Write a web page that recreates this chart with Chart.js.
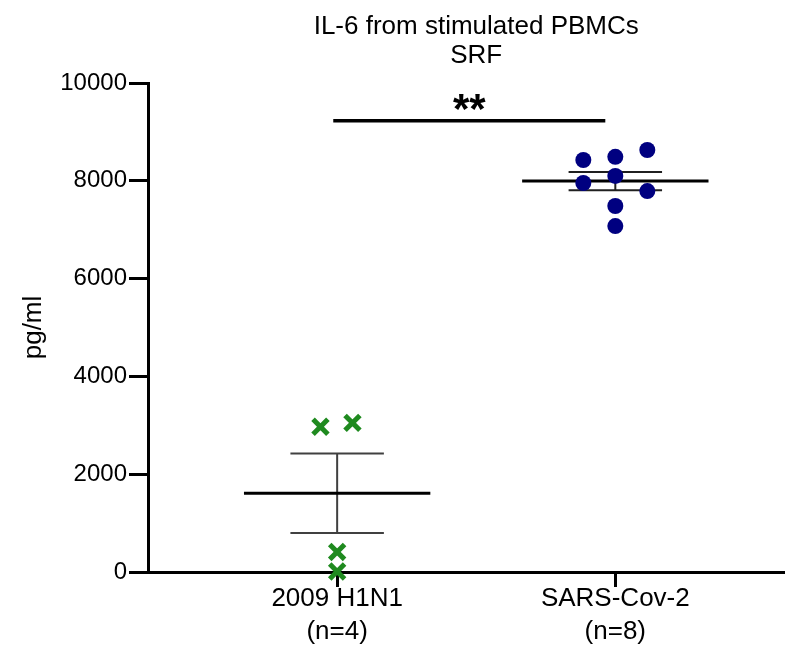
<!DOCTYPE html>
<html>
<head>
<meta charset="utf-8">
<script src="https://cdn.jsdelivr.net/npm/chart.js@4.4.0/dist/chart.umd.min.js"></script>
<style>
  html, body { margin: 0; padding: 0; background: #fff; }
  #wrap { width: 785px; height: 652px; }
</style>
</head>
<body>
<div id="wrap"><canvas id="myChart"></canvas></div>
<script>
var groups = ['2009 H1N1', 'SARS-Cov-2'];
var groupN = ['(n=4)', '(n=8)'];
var h1n1Values = [2970, 3050, 410, 10];
var sarsValues = [8425, 8490, 8630, 7955, 8100, 7790, 7485, 7075];
var yTicks = [0, 2000, 4000, 6000, 8000, 10000];
var chartTitle = ['IL-6 from stimulated PBMCs', 'SRF'];
var yLabel = 'pg/ml';
var sigLabel = '**';
var sigHeight = 9230;
// scatter spread around each group centre (category units)
var h1n1Jitter = [-0.06, 0.055, 0, 0];
var sarsJitter = [-0.115, 0, 0.115, -0.115, 0, 0.115, 0, 0];

var FONT = "'Liberation Sans', Arial, sans-serif";

function mean(arr) {
    var s = 0;
    for (var i = 0; i < arr.length; i++) s += arr[i];
    return s / arr.length;
}
function sem(arr) {
    var m = mean(arr), s = 0;
    for (var i = 0; i < arr.length; i++) s += (arr[i] - m) * (arr[i] - m);
    return Math.sqrt(s / (arr.length - 1)) / Math.sqrt(arr.length);
}
function points(vals, jit, xc) {
    var out = [];
    for (var i = 0; i < vals.length; i++) out.push({ x: xc + jit[i], y: vals[i] });
    return out;
}
function meanLine(vals, xc) {
    var m = mean(vals);
    return [{ x: xc - 0.335, y: m }, { x: xc + 0.335, y: m }];
}
function errBar(vals, xc) {
    var m = mean(vals), e = sem(vals);
    return [
        { x: xc - 0.168, y: m + e }, { x: xc + 0.168, y: m + e }, { x: xc, y: null },
        { x: xc, y: m + e }, { x: xc, y: m - e }, { x: xc, y: null },
        { x: xc - 0.168, y: m - e }, { x: xc + 0.168, y: m - e }
    ];
}

var lineBase = { type: 'line', pointRadius: 0, fill: false, spanGaps: false, tension: 0 };

var labelsPlugin = {
    id: 'labelsPlugin',
    afterDraw: function (chart) {
        var ctx = chart.ctx;
        var xs = chart.scales.x, ys = chart.scales.y;
        ctx.save();
        ctx.fillStyle = '#000';
        ctx.textAlign = 'center';
        ctx.textBaseline = 'middle';
        ctx.font = '26px ' + FONT;
        var cx = xs.getPixelForValue(1.5);
        ctx.fillText(chartTitle[0], cx, 27);
        ctx.fillText(chartTitle[1], cx, 56);
        ctx.font = 'bold 42px ' + FONT;
        ctx.textBaseline = 'alphabetic';
        ctx.fillText(sigLabel, (xs.getPixelForValue(0.986) + xs.getPixelForValue(1.964)) / 2,
            ys.getPixelForValue(sigHeight) + 2);
        ctx.restore();
    }
};

var ctx = document.getElementById('myChart').getContext('2d');
var myChart = new Chart(ctx, {
    type: 'scatter',
    data: {
        datasets: [
            {
                label: groups[0],
                data: points(h1n1Values, h1n1Jitter, 1),
                pointStyle: 'crossRot',
                pointRadius: 10.5,
                borderWidth: 5,
                borderColor: '#1f8a1f',
                backgroundColor: '#1f8a1f',
                clip: false
            },
            {
                label: groups[1],
                data: points(sarsValues, sarsJitter, 2),
                pointStyle: 'circle',
                pointRadius: 8,
                borderWidth: 0,
                borderColor: '#000080',
                backgroundColor: '#000080',
                clip: false
            },
            Object.assign({}, lineBase, { data: meanLine(h1n1Values, 1), borderColor: '#000', borderWidth: 3 }),
            Object.assign({}, lineBase, { data: meanLine(sarsValues, 2), borderColor: '#000', borderWidth: 3 }),
            Object.assign({}, lineBase, { data: errBar(h1n1Values, 1), borderColor: '#404040', borderWidth: 2 }),
            Object.assign({}, lineBase, { data: errBar(sarsValues, 2), borderColor: '#202020', borderWidth: 2 }),
            Object.assign({}, lineBase, {
                data: [{ x: 0.986, y: sigHeight }, { x: 1.964, y: sigHeight }],
                borderColor: '#000', borderWidth: 3.5, clip: false
            })
        ]
    },
    options: {
        responsive: true,
        maintainAspectRatio: false,
        animation: false,
        layout: { autoPadding: false, padding: { top: 83, right: 0, bottom: 0, left: 0 } },
        plugins: {
            legend: { display: false },
            tooltip: { enabled: false },
            title: { display: false }
        },
        scales: {
            x: {
                type: 'linear',
                min: 0.32,
                max: 2.61,
                afterBuildTicks: function (s) { s.ticks = [{ value: 1 }, { value: 2 }]; },
                afterFit: function (s) { s.height = 80; },
                grid: { drawOnChartArea: false, drawTicks: true, tickLength: 15, lineWidth: 3, color: '#000' },
                border: { display: true, width: 3, color: '#000' },
                ticks: {
                    color: '#000',
                    padding: -5,
                    maxRotation: 0,
                    font: { family: FONT, size: 26, lineHeight: 1.27 },
                    callback: function (v) {
                        var i = Math.round(v) - 1;
                        return [groups[i], groupN[i]];
                    }
                }
            },
            y: {
                min: 0,
                max: 10000,
                afterBuildTicks: function (s) {
                    s.ticks = yTicks.map(function (v) { return { value: v }; });
                },
                afterFit: function (s) { s.width = 148; },
                grid: { drawOnChartArea: false, drawTicks: true, tickLength: 19, lineWidth: 3, color: '#000' },
                border: { display: true, width: 3, color: '#000' },
                ticks: {
                    color: '#000',
                    padding: 2,
                    font: { family: FONT, size: 24 },
                    callback: function (v) { return String(v); }
                },
                title: {
                    display: true,
                    text: yLabel,
                    color: '#000',
                    padding: { top: 18, bottom: 0 },
                    font: { family: FONT, size: 26 }
                }
            }
        }
    },
    plugins: [labelsPlugin]
});
</script>
</body>
</html>
